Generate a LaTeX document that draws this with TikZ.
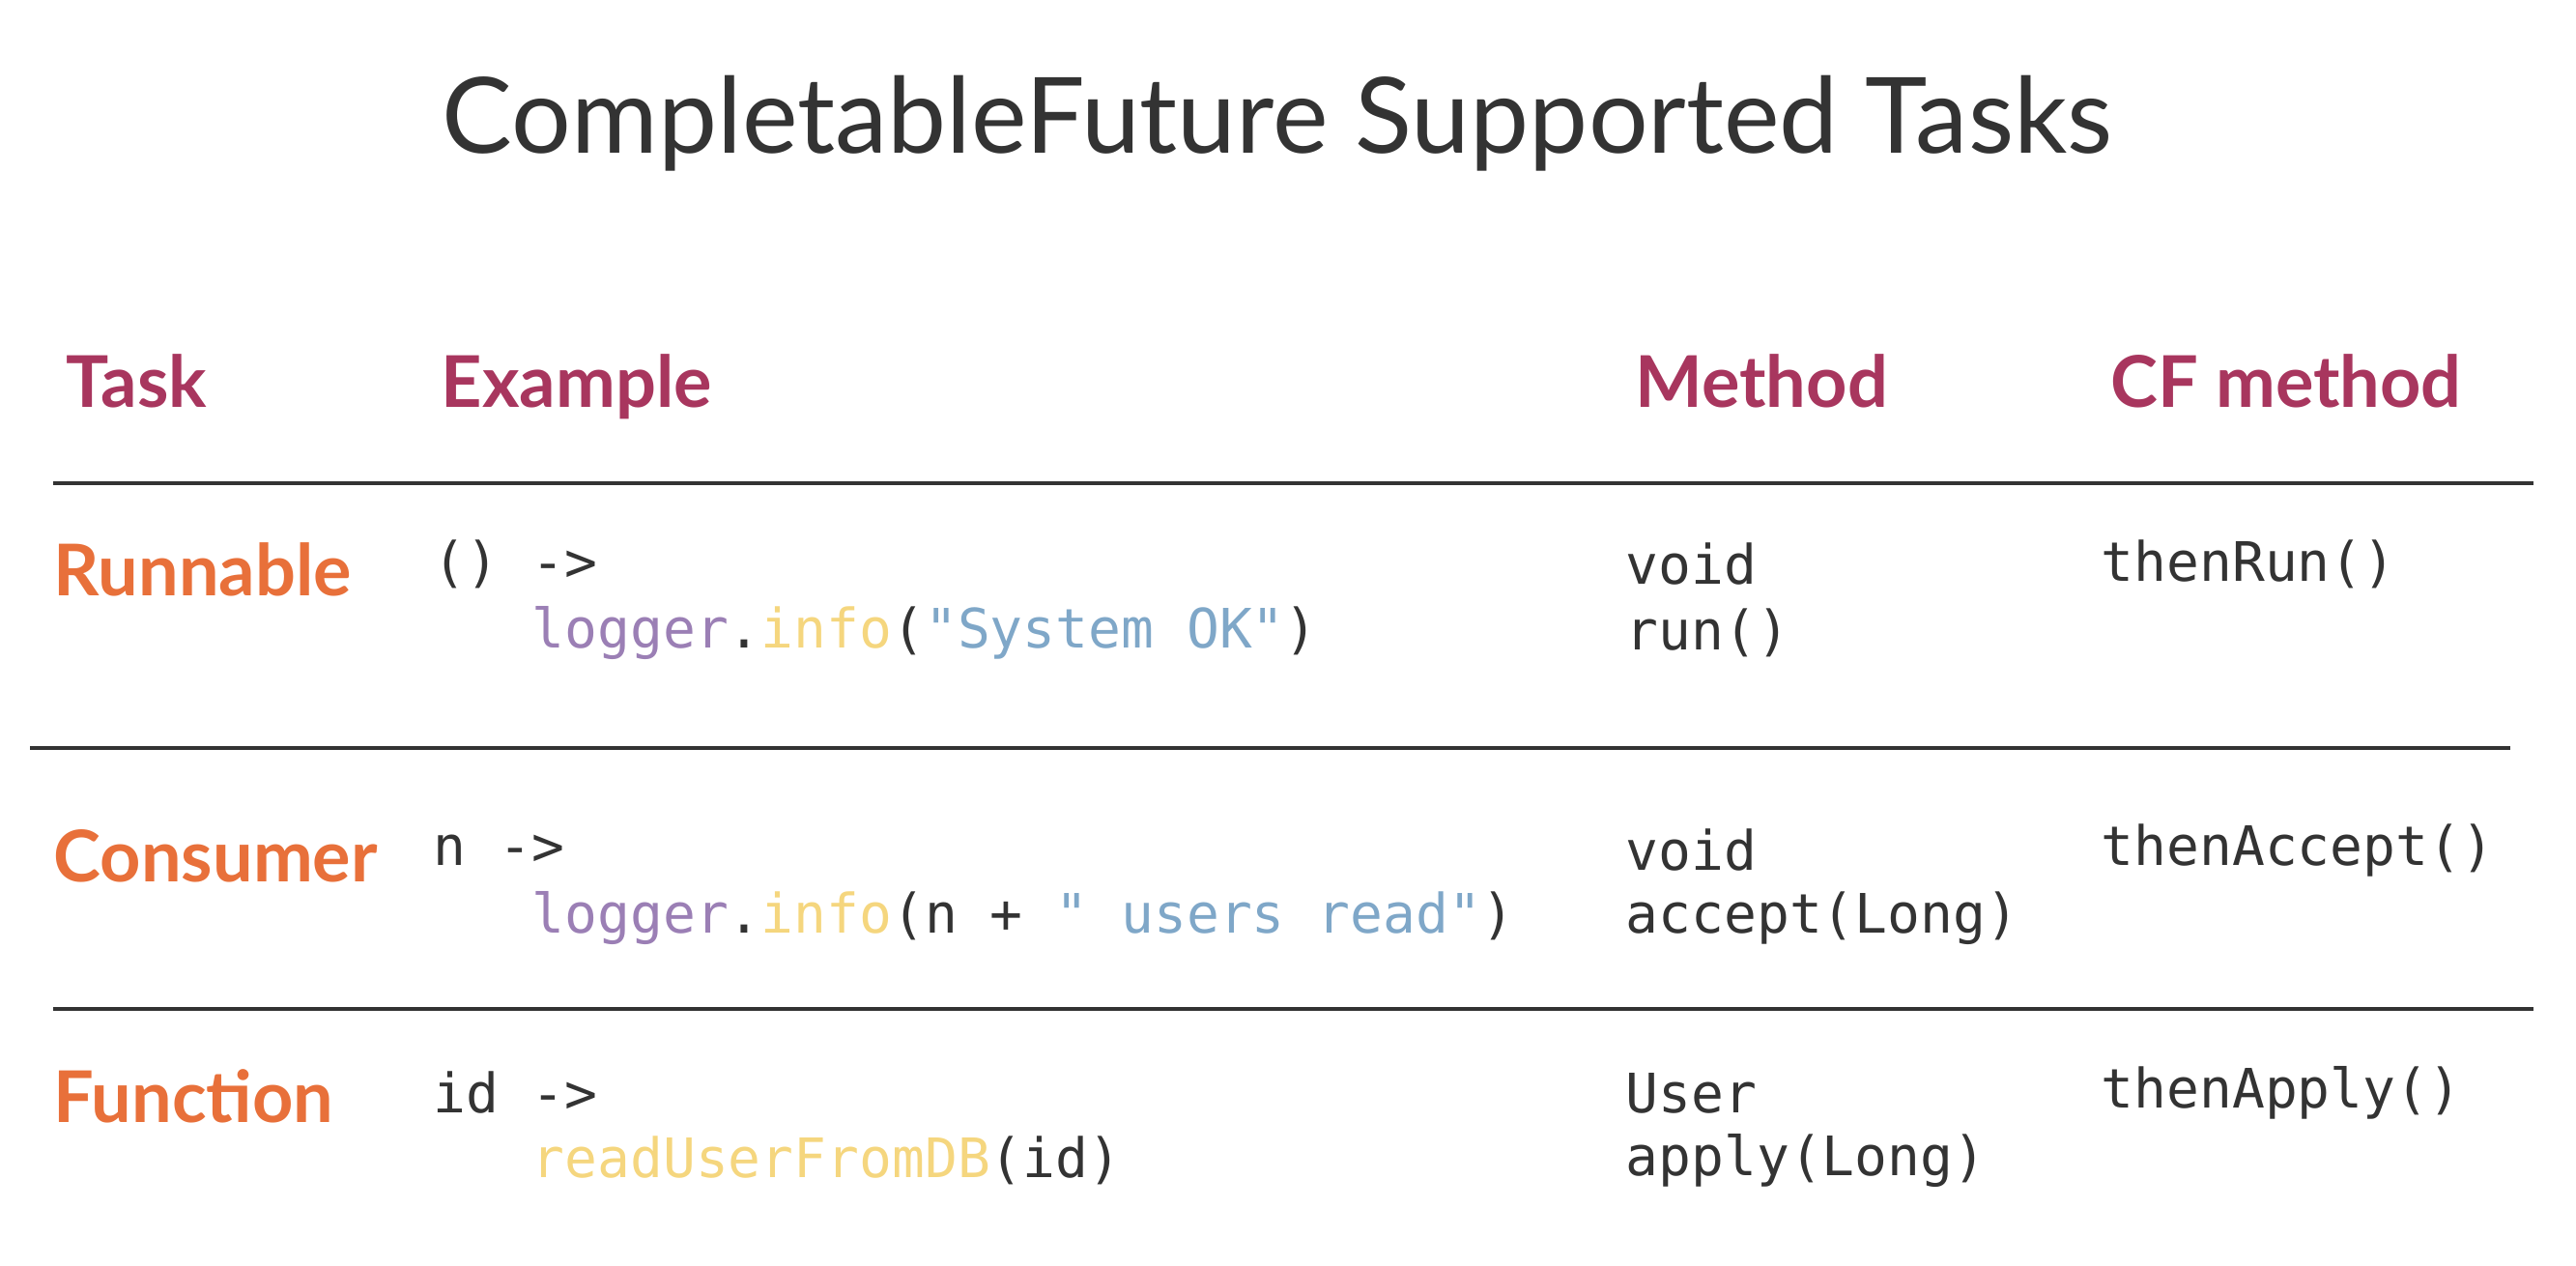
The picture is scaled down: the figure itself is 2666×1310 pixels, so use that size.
\documentclass[tikz,border=0pt]{standalone}
\usepackage{fontspec}
\setmainfont{Lato}
\newfontfamily\codefont{DejaVu Sans Mono}
\usetikzlibrary{positioning}
\definecolor{headred}{RGB}{168,54,94}
\definecolor{taskorange}{RGB}{232,112,58}
\definecolor{codepurple}{RGB}{155,127,181}
\definecolor{codeyellow}{RGB}{245,214,126}
\definecolor{codeblue}{RGB}{127,167,200}
\definecolor{codegray}{RGB}{51,51,51}

\begin{document}
\begin{tikzpicture}[x=0.01cm, y=-0.01cm,
    head/.style={anchor=west, inner sep=0pt, text height=0.75em, text depth=0.25em, font=\fontsize{21}{25}\selectfont\bfseries, text=headred},
    task/.style={head, text=taskorange},
    code/.style={anchor=west, inner sep=0pt, font=\fontsize{16}{19}\selectfont\codefont, text=codegray},
    rule/.style={draw=codegray, line width=1.2pt}]
        \useasboundingbox (0,0) rectangle (2666,1310);

        % Title
        \node[font=\fontsize{31}{37}\selectfont, text=codegray] (title) at (1322,128) {CompletableFuture Supported Tasks};

        % Header row
        \node[head] (hTask) at (68,413) {Task};
        \node[head] (hExample) at (456,413) {Example};
        \node[head] (hMethod) at (1692,413) {Method};
        \node[head] (hCF) at (2184,413) {CF method};

        % Rules
        \draw[rule] (55,500) -- (2622,500);
        \draw[rule] (31,774) -- (2598,774);
        \draw[rule] (55,1044) -- (2622,1044);

        % Runnable
        \node[task] (tRun) at (55,608) {Runnable};
        \node[code] (eRunA) at (448,584) {() ->};
        \node[code] (eRunB) at (550,655) {\textcolor{codepurple}{logger}.\textcolor{codeyellow}{info}(\textcolor{codeblue}{"System OK"})};
        \node[code] (mRunA) at (1682,584) {void};
        \node[code] (mRunB) at (1682,655) {run()};
        \node[code] (cRun) at (2174,584) {thenRun()};

        % Consumer
        \node[task] (tCons) at (55,904) {Consumer};
        \node[code] (eConsA) at (448,880) {n ->};
        \node[code] (eConsB) at (550,950) {\textcolor{codepurple}{logger}.\textcolor{codeyellow}{info}(n + \textcolor{codeblue}{" users read"})};
        \node[code] (mConsA) at (1682,880) {void};
        \node[code] (mConsB) at (1682,950) {accept(Long)};
        \node[code] (cCons) at (2174,880) {thenAccept()};

        % Function
        \node[task] (tFunc) at (55,1153) {Function};
        \node[code] (eFuncA) at (448,1131) {id ->};
        \node[code] (eFuncB) at (550,1201) {\textcolor{codeyellow}{readUserFromDB}(id)};
        \node[code] (mFuncA) at (1682,1131) {User};
        \node[code] (mFuncB) at (1682,1201) {apply(Long)};
        \node[code] (cFunc) at (2174,1131) {thenApply()};
\end{tikzpicture}
\end{document}
